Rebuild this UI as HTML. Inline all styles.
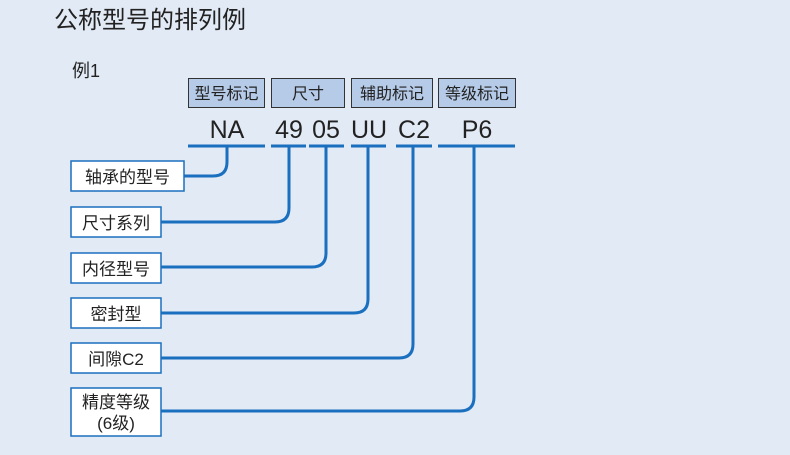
<!DOCTYPE html>
<html><head><meta charset="utf-8"><style>
html,body{margin:0;padding:0;background:#e2eaf5;}
svg{display:block}
text{font-family:"Liberation Sans","Noto Sans CJK SC",sans-serif;fill:#222;}
</style></head><body>
<svg width="790" height="455" viewBox="0 0 790 455" xmlns="http://www.w3.org/2000/svg">
<rect width="790" height="455" fill="#e2eaf5"/>
<text x="54" y="28" font-size="24">公称型号的排列例</text>
<text x="72" y="77" font-size="18">例1</text>
<g stroke="#333" stroke-width="1" fill="#b6cbe8">
<rect x="188.5" y="78.5" width="76" height="29"/>
<rect x="271.5" y="78.5" width="73" height="29"/>
<rect x="351.5" y="78.5" width="81" height="29"/>
<rect x="438.5" y="78.5" width="77" height="29"/>
</g>
<g font-size="16" text-anchor="middle">
<text x="226.5" y="99">型号标记</text>
<text x="308" y="99">尺寸</text>
<text x="392" y="99">辅助标记</text>
<text x="477" y="99">等级标记</text>
</g>
<g font-size="25" text-anchor="middle">
<text x="227" y="138">NA</text>
<text x="289" y="138">49</text>
<text x="326" y="138">05</text>
<text x="369" y="138">UU</text>
<text x="414" y="138">C2</text>
<text x="477" y="138">P6</text>
</g>
<g stroke="#1a6fbf" stroke-width="3" fill="none">
<line x1="188" y1="146" x2="265" y2="146"/>
<line x1="271" y1="146" x2="306" y2="146"/>
<line x1="309" y1="146" x2="344" y2="146"/>
<line x1="351" y1="146" x2="386" y2="146"/>
<line x1="396" y1="146" x2="432" y2="146"/>
<line x1="438" y1="146" x2="515" y2="146"/>
<path d="M227 146 V162 Q227 176 213 176 H184"/>
<path d="M289 146 V208 Q289 222 275 222 H161"/>
<path d="M326 146 V253 Q326 267 312 267 H161"/>
<path d="M368 146 V299 Q368 313 354 313 H161"/>
<path d="M413 146 V344 Q413 358 399 358 H161"/>
<path d="M474 146 V397 Q474 411 460 411 H161"/>
</g>
<g stroke="#1a6fbf" stroke-width="1.5" fill="#fff">
<rect x="71" y="161" width="113" height="30"/>
<rect x="71" y="207" width="90" height="30"/>
<rect x="71" y="253" width="90" height="30"/>
<rect x="71" y="298" width="90" height="30"/>
<rect x="71" y="343" width="90" height="30"/>
<rect x="71" y="388" width="90" height="48"/>
</g>
<g font-size="17" text-anchor="middle">
<text x="127.5" y="183">轴承的型号</text>
<text x="116" y="229">尺寸系列</text>
<text x="116" y="275">内径型号</text>
<text x="116" y="320">密封型</text>
<text x="116" y="365">间隙C2</text>
<text x="116" y="408">精度等级</text>
<text x="116" y="429">(6级)</text>
</g>
</svg>
</body></html>
